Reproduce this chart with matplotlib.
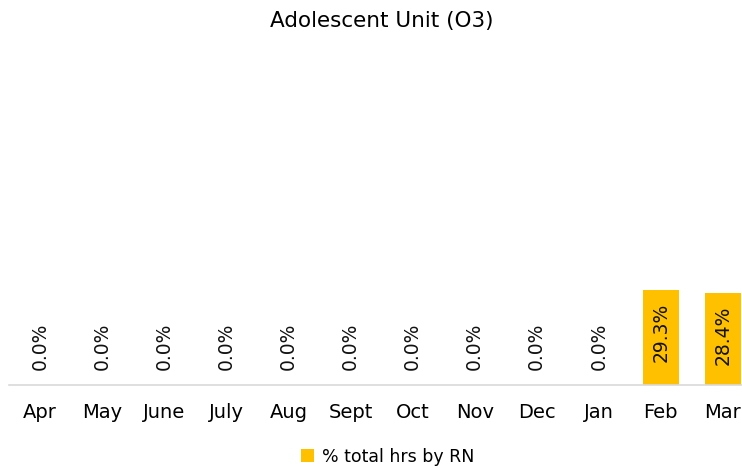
import matplotlib.pyplot as plt

months = ["Apr", "May", "June", "July", "Aug", "Sept", "Oct", "Nov", "Dec", "Jan", "Feb", "Mar"]
pct_rn = [0.0, 0.0, 0.0, 0.0, 0.0, 0.0, 0.0, 0.0, 0.0, 0.0, 29.3, 28.4]

plt.rcParams['font.family'] = ['DejaVu Sans']

fig = plt.figure(figsize=(7.42, 4.68), dpi=100)
# axes runs past the right edge, like the cropped original
ax = fig.add_axes([9 / 742, 83 / 468, 745 / 742, 324 / 468])

x = range(len(months))
bars = ax.bar(x, pct_rn, width=0.58, color="#FFC000", label="% total hrs by RN")

for xi, v in zip(x, pct_rn):
    txt = f"{v:.1f}%"
    if v > 0:
        ax.annotate(txt, (xi, v), xytext=(0, -9), textcoords="offset points",
                    rotation=90, ha="center", va="top", fontsize=13.5, color="#111111")
    else:
        ax.annotate(txt, (xi, v), xytext=(0, 11), textcoords="offset points",
                    rotation=90, ha="center", va="bottom", fontsize=13.5, color="#111111")

ax.set_xlim(-0.5, len(months) - 0.5)
ax.set_ylim(0, 100)
ax.set_xticks(list(x))
ax.set_xticklabels(months, fontsize=14)
ax.tick_params(axis="x", length=0, pad=13)
ax.set_yticks([])
for s in ["top", "right", "left"]:
    ax.spines[s].set_visible(False)
ax.spines["bottom"].set_color("#d9d9d9")
ax.spines["bottom"].set_linewidth(1.2)

fig.text(0.515, 0.955, "Adolescent Unit (O3)", ha="center", va="center", fontsize=15.5)

fig.legend(loc="center", bbox_to_anchor=(0.522, 0.024), frameon=False, fontsize=12.5,
           handlelength=0.75, handleheight=0.75, handletextpad=0.45)

fig.savefig("out.png", dpi=100)
